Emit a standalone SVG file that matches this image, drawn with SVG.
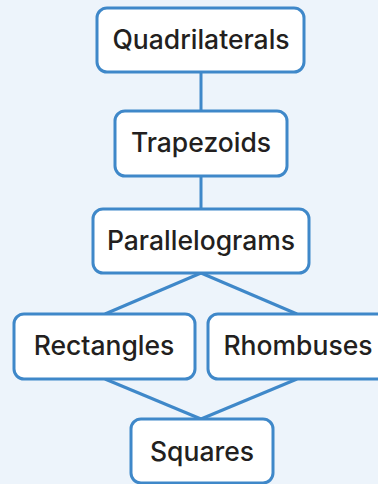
<svg xmlns="http://www.w3.org/2000/svg" width="378" height="484" viewBox="0 0 378 484">
<style>
.box{fill:#ffffff;stroke:#3f88c9;stroke-width:3}
.lbl{font-family:Inter,"Noto Sans",sans-serif;font-weight:500;font-size:26.5px;fill:#231f20;text-anchor:middle}
.edge{stroke:#3f88c9;stroke-width:3;fill:none}
</style>
<rect x="0" y="0" width="378" height="484" fill="#edf4fb"/>
<g id="connectors">
<line class="edge" x1="201" y1="72" x2="201" y2="111"/>
<line class="edge" x1="201" y1="176" x2="201" y2="209"/>
<line class="edge" x1="201" y1="273" x2="105" y2="314"/>
<line class="edge" x1="201" y1="273" x2="297" y2="314"/>
<line class="edge" x1="105" y1="379" x2="201" y2="419"/>
<line class="edge" x1="297" y1="379" x2="201" y2="419"/>
</g>
<g id="quadrilaterals">
<rect class="box" x="97" y="8" width="207" height="64" rx="10"/>
<text class="lbl" x="201" y="49">Quadrilaterals</text>
</g>
<g id="trapezoids">
<rect class="box" x="115" y="111" width="172" height="65" rx="10"/>
<text class="lbl" x="201" y="152">Trapezoids</text>
</g>
<g id="parallelograms">
<rect class="box" x="93" y="209" width="216" height="64" rx="10"/>
<text class="lbl" x="201" y="250">Parallelograms</text>
</g>
<g id="rectangles">
<rect class="box" x="14" y="314" width="181" height="65" rx="10"/>
<text class="lbl" x="104" y="355">Rectangles</text>
</g>
<g id="rhombuses">
<rect class="box" x="208" y="314" width="181" height="65" rx="10"/>
<text class="lbl" x="298" y="355">Rhombuses</text>
</g>
<g id="squares">
<rect class="box" x="131" y="419" width="142" height="64" rx="10"/>
<text class="lbl" x="202" y="461">Squares</text>
</g>
</svg>
